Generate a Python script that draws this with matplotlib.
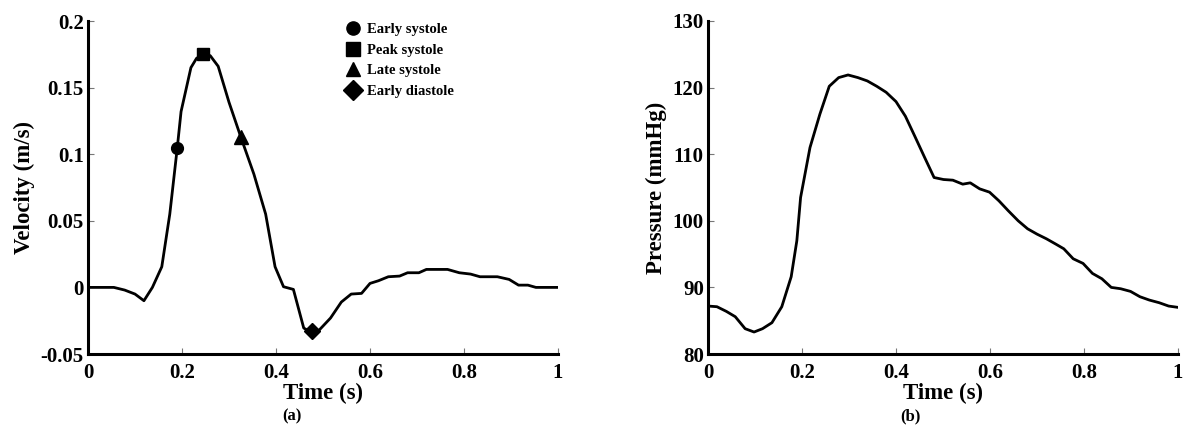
import matplotlib
matplotlib.use("Agg")
import matplotlib.pyplot as plt
from matplotlib.lines import Line2D

# ---- data ----
t_vel = [0.0, 0.055, 0.078, 0.1, 0.119, 0.137, 0.157, 0.174, 0.19, 0.198, 0.219, 0.231,
         0.245, 0.26, 0.277, 0.3, 0.326, 0.353, 0.378, 0.398, 0.416, 0.437, 0.459, 0.476,
         0.492, 0.516, 0.539, 0.56, 0.582, 0.6, 0.618, 0.639, 0.663, 0.68, 0.704, 0.72,
         0.765, 0.79, 0.814, 0.834, 0.871, 0.896, 0.916, 0.936, 0.953, 1.0]
vel = [0.0, 0.0, -0.002, -0.005, -0.01, 0.0, 0.0155, 0.055, 0.105, 0.132, 0.165, 0.172,
       0.175, 0.174, 0.166, 0.139, 0.112, 0.085, 0.055, 0.0155, 0.0005, -0.0015, -0.0305, -0.034,
       -0.032, -0.023, -0.011, -0.005, -0.0045, 0.003, 0.005, 0.008, 0.0085, 0.011, 0.011, 0.0135,
       0.0135, 0.011, 0.010, 0.008, 0.008, 0.006, 0.0017, 0.0017, 0.0, 0.0]

phase_names = ["Early systole", "Peak systole", "Late systole", "Early diastole"]
phase_t = [0.19, 0.245, 0.326, 0.476]
phase_v = [0.105, 0.175, 0.113, -0.033]
phase_markers = ["o", "s", "^", "D"]

t_p = [0.0, 0.019, 0.039, 0.058, 0.079, 0.098, 0.116, 0.136, 0.157, 0.177, 0.189, 0.197,
       0.217, 0.238, 0.258, 0.278, 0.298, 0.319, 0.339, 0.359, 0.379, 0.4, 0.42, 0.44,
       0.461, 0.481, 0.501, 0.521, 0.542, 0.558, 0.578, 0.599, 0.619, 0.639, 0.66, 0.68,
       0.7, 0.72, 0.74, 0.757, 0.777, 0.798, 0.818, 0.838, 0.858, 0.878, 0.899, 0.919,
       0.939, 0.96, 0.98, 1.0]
pres = [87.2, 87.1, 86.4, 85.6, 83.8, 83.3, 83.8, 84.7, 87.1, 91.6, 97.0, 103.5,
        111.0, 116.0, 120.2, 121.5, 121.9, 121.5, 121.0, 120.2, 119.3, 117.9, 115.7, 112.7,
        109.5, 106.5, 106.2, 106.1, 105.5, 105.7, 104.8, 104.3, 103.0, 101.5, 100.0, 98.8,
        98.0, 97.3, 96.5, 95.8, 94.3, 93.6, 92.1, 91.3, 90.0, 89.8, 89.4, 88.6,
        88.1, 87.7, 87.2, 87.0]

x_ticks = [0, 0.2, 0.4, 0.6, 0.8, 1]
x_ticklabels = ["0", "0.2", "0.4", "0.6", "0.8", "1"]
vel_ticks = [-0.05, 0, 0.05, 0.1, 0.15, 0.2]
vel_ticklabels = ["-0.05", "0", "0.05", "0.1", "0.15", "0.2"]
p_ticks = [80, 90, 100, 110, 120, 130]
p_ticklabels = ["80", "90", "100", "110", "120", "130"]

# ---- style ----
plt.rcParams["font.family"] = ["Liberation Serif", "DejaVu Serif"]
plt.rcParams["font.weight"] = "bold"

W, H = 1186, 434
fig = plt.figure(figsize=(W / 100, H / 100), dpi=100)

def px_axes(x0, x1, y0, y1):
    return fig.add_axes([x0 / W, 1 - y1 / H, (x1 - x0) / W, (y1 - y0) / H])

ax1 = px_axes(88, 558, 21, 354)
ax2 = px_axes(708, 1178, 21, 354)

LW = 2.0
for ax in (ax1, ax2):
    for s in ("top", "right"):
        ax.spines[s].set_visible(False)
    for s in ("left", "bottom"):
        ax.spines[s].set_linewidth(2.2)
    ax.tick_params(direction="in", length=4, width=0.8, color="#777777",
                   labelsize=15, pad=6.5)
    ax.set_xlim(0, 1)
    ax.set_xticks(x_ticks)
    ax.set_xticklabels(x_ticklabels, fontweight="bold")
    ax.set_xlabel("Time (s)", fontsize=16.5, fontweight="bold", labelpad=0)

ax1.plot(t_vel, vel, color="black", lw=LW, zorder=2)
marker_sizes = {"o": 8.5, "s": 9, "^": 9.5, "D": 8}
legend_sizes = {"o": 9.5, "s": 10, "^": 10.5, "D": 10}
handles = []
for name, tt, vv, mk in zip(phase_names, phase_t, phase_v, phase_markers):
    ax1.plot([tt], [vv], marker=mk, color="black", ms=marker_sizes[mk], ls="none",
             zorder=3, clip_on=False)
    handles.append(Line2D([], [], marker=mk, color="black", ls="none",
                          ms=legend_sizes[mk], label=name))
ax1.set_ylim(-0.05, 0.2)
ax1.set_yticks(vel_ticks)
ax1.set_yticklabels(vel_ticklabels, fontweight="bold")
ax1.tick_params(axis="y", pad=3)
ax1.set_ylabel("Velocity (m/s)", fontsize=16.5, fontweight="bold", labelpad=4)
leg = ax1.legend(handles=handles, loc="upper left", bbox_to_anchor=(0.548, 0.995),
                 frameon=False, fontsize=10.5, handlelength=1.0, handletextpad=0.45,
                 labelspacing=0.52, borderpad=0, borderaxespad=0)
for txt in leg.get_texts():
    txt.set_fontweight("bold")

ax2.plot(t_p, pres, color="black", lw=LW, zorder=2)
ax2.set_ylim(80, 130)
ax2.set_yticks(p_ticks)
ax2.set_yticklabels(p_ticklabels, fontweight="bold")
ax2.tick_params(axis="y", pad=3)
ax2.set_ylabel("Pressure (mmHg)", fontsize=16.5, fontweight="bold", labelpad=4)

fig.text(292 / W, 1 - 416 / H, "(a)", ha="center", va="center", fontsize=12, fontweight="bold")
fig.text(910 / W, 1 - 416 / H, "(b)", ha="center", va="center", fontsize=12, fontweight="bold")

fig.savefig("out.png", dpi=100)
